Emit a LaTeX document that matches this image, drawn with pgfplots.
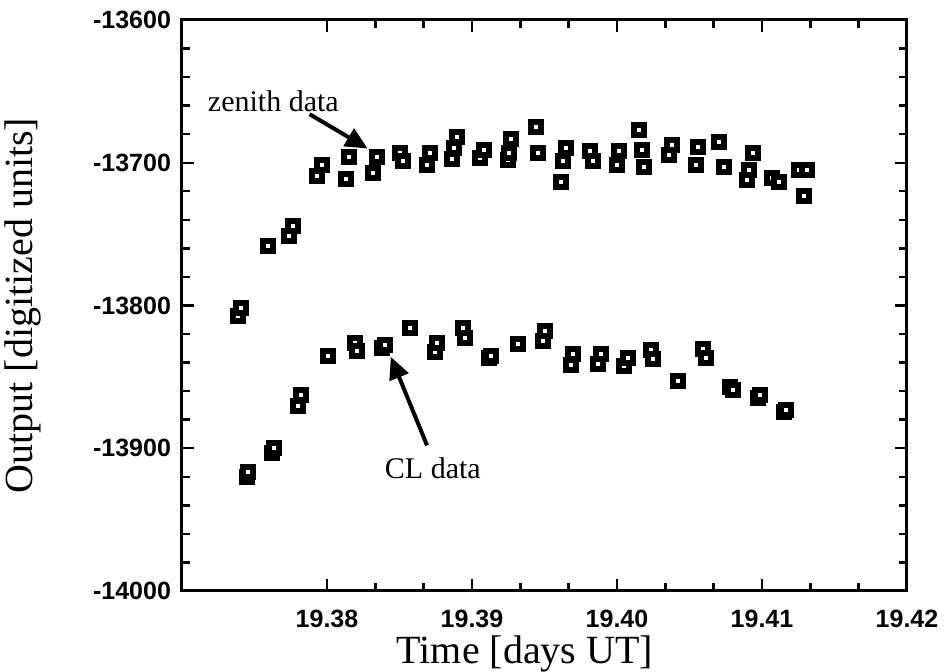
\documentclass[border=0pt]{standalone}
\usepackage{pgfplots}
\pgfplotsset{compat=1.18}
\usetikzlibrary{arrows.meta}
\usepackage{fontspec}
\setmainfont{Liberation Serif}
\newfontfamily\helv{Liberation Sans}
\begin{document}
\begin{tikzpicture}
\begin{axis}[
  scale only axis, width=362.5pt, height=285.5pt,
  at={(0pt,0pt)}, anchor=south west,
  xmin=19.37, xmax=19.42, ymin=-14000, ymax=-13600,
  scaled x ticks=false, scaled y ticks=false,
  xtick={19.38,19.39,19.40,19.41,19.42},
  xticklabels={19.38,19.39,19.40,19.41,19.42},
  ytick={-14000,-13900,-13800,-13700,-13600},
  yticklabels={-14000,-13900,-13800,-13700,-13600},
  minor x tick num=2, minor y tick num=4,
  tick align=inside, xtick pos=both, ytick pos=both,
  major tick length=6pt, minor tick length=4pt,
  every tick/.style={black, line width=1.2pt},
  axis line style={line width=1.5pt},
  ticklabel style={font=\helv\bfseries\fontsize{12.5}{14}\selectfont},
  yticklabel style={xshift=-2pt},
  xticklabel style={yshift=-6pt},
  xlabel={Time [days UT]}, ylabel={Output [digitized units]},
  label style={font=\fontsize{20}{24}\selectfont},
  xlabel style={at={(axis description cs:0.473,-0.11)}, anchor=center},
  ylabel style={at={(axis description cs:-0.22,0.5)}, anchor=center},
  clip=false,
]
\addplot[only marks, mark=square*, mark size=2.5pt,
  mark options={line width=3pt, draw=black, fill=white}] table {
x y
19.37389 -13807.4
19.37405 -13802.0
19.37595 -13758.5
19.37740 -13751.5
19.37768 -13744.6
19.37929 -13709.0
19.37963 -13701.3
19.38129 -13711.5
19.38152 -13695.9
19.38320 -13707.5
19.38343 -13695.9
19.38503 -13693.4
19.38526 -13699.1
19.38692 -13701.3
19.38710 -13693.4
19.38860 -13697.1
19.38878 -13689.7
19.38894 -13681.8
19.39055 -13697.0
19.39083 -13691.4
19.39245 -13697.9
19.39252 -13693.4
19.39267 -13683.5
19.39439 -13675.3
19.39458 -13693.4
19.39612 -13713.2
19.39630 -13699.1
19.39646 -13689.4
19.39814 -13691.7
19.39832 -13699.1
19.39998 -13701.3
19.40016 -13691.7
19.40152 -13677.3
19.40170 -13690.9
19.40188 -13703.3
19.40361 -13694.6
19.40377 -13687.7
19.40545 -13701.3
19.40561 -13689.2
19.40706 -13685.2
19.40738 -13703.3
19.40895 -13712.0
19.40913 -13705.0
19.40936 -13693.4
19.41067 -13710.7
19.41119 -13713.2
19.41257 -13705.0
19.41290 -13723.1
19.41308 -13705.0
};
\addplot[only marks, mark=square*, mark size=2.5pt,
  mark options={line width=3pt, draw=black, fill=white}] table {
x y
19.37446 -13920.0
19.37457 -13916.3
19.37620 -13903.0
19.37635 -13900.0
19.37802 -13870.5
19.37821 -13862.6
19.38009 -13835.4
19.38193 -13826.0
19.38205 -13831.7
19.38380 -13829.5
19.38400 -13827.5
19.38572 -13815.6
19.38745 -13832.7
19.38761 -13826.0
19.38940 -13816.0
19.38952 -13823.0
19.39115 -13837.0
19.39130 -13835.5
19.39319 -13827.2
19.39492 -13824.7
19.39503 -13817.8
19.39683 -13841.6
19.39699 -13834.1
19.39871 -13840.8
19.39890 -13834.1
19.40048 -13842.6
19.40078 -13837.1
19.40234 -13831.0
19.40246 -13837.6
19.40423 -13852.7
19.40595 -13830.6
19.40614 -13836.8
19.40780 -13857.0
19.40800 -13859.0
19.40970 -13864.5
19.40985 -13863.0
19.41155 -13874.5
19.41166 -13873.0
};
\draw[line width=2pt, -{Triangle[length=11pt,width=10pt]}] (axis cs:19.3788,-13666) -- (axis cs:19.3828,-13690);
\draw[line width=2pt, -{Triangle[length=11pt,width=10pt]}] (axis cs:19.3869,-13898) -- (axis cs:19.3844,-13836);
\node[font=\fontsize{15}{18}\selectfont] at (axis cs:19.3763,-13657) {zenith data};
\node[font=\fontsize{15}{18}\selectfont] at (axis cs:19.3873,-13914) {CL data};
\end{axis}
\pgfresetboundingbox
\path[use as bounding box] (-91pt,-40.5pt) rectangle (384pt,295.5pt);
\end{tikzpicture}
\end{document}
